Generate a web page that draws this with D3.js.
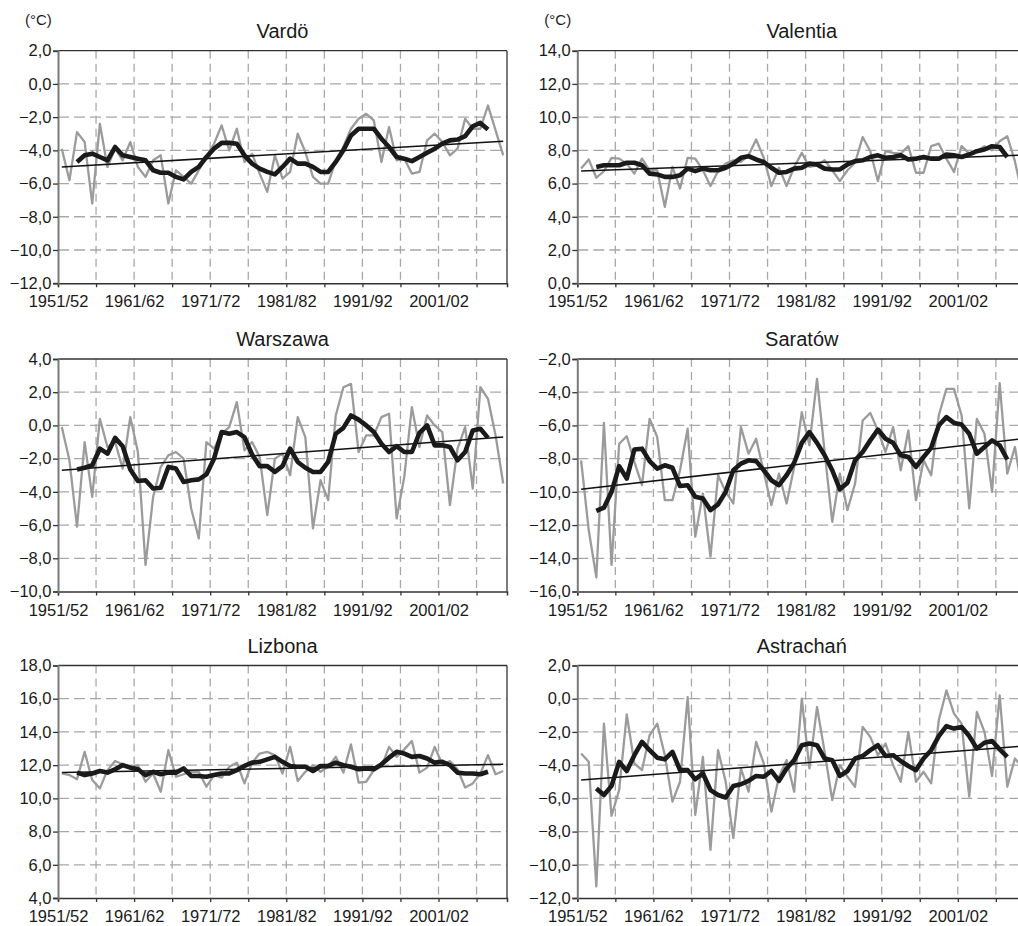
<!DOCTYPE html>
<html>
<head>
<meta charset="utf-8">
<script src="https://cdn.jsdelivr.net/npm/d3@7"></script>
<style>
  body { margin: 0; background: #fff; }
  svg { display: block; font-family: "Liberation Sans", Arial, sans-serif; }
</style>
</head>
<body>
<svg id="chart" width="1018" height="926"></svg>
<script>
// Winter seasons 1951/52 … 2009/10
const seasons = d3.range(1951, 2010).map(y => y + "/" + String((y + 1) % 100).padStart(2, "0"));
const xTickLabels = ["1951/52", "1961/62", "1971/72", "1981/82", "1991/92", "2001/02"];

const stations = ["Vardö", "Valentia", "Warszawa", "Saratów", "Lizbona", "Astrachań"];
const yMin = [-12, 0, -10, -16, 4, -12];
const yMax = [2, 14, 4, -2, 18, 2];

// Mean winter temperature (°C), one value per season
const vardoWinter = [-3.9, -5.8, -2.9, -3.5, -7.2, -2.4, -5.0, -3.9, -4.6, -3.5,
  -5.0, -5.6, -4.6, -4.3, -7.2, -5.2, -5.6, -6.0, -5.2, -4.4,
  -3.6, -2.5, -4.0, -2.7, -4.7, -4.2, -5.4, -6.5, -4.3, -5.7,
  -5.3, -3.0, -4.1, -5.6, -6.0, -6.0, -4.6, -3.8, -2.7, -2.1,
  -1.8, -2.2, -4.7, -2.6, -4.6, -4.5, -5.4, -5.3, -3.4, -3.0,
  -3.5, -4.3, -3.9, -2.1, -2.7, -2.7, -1.3, -2.8, -4.3];
const valentiaWinter = [6.9, 7.45, 6.35, 6.75, 7.55, 7.5, 7.2, 6.6, 7.5, 6.8,
  6.8, 4.6, 7.0, 5.7, 7.55, 7.5, 6.8, 5.85, 6.75, 7.2,
  7.4, 7.3, 7.7, 8.65, 7.55, 5.85, 6.95, 5.85, 7.0, 7.85,
  7.0, 7.1, 7.4, 6.8, 6.15, 6.8, 7.25, 8.8, 7.95, 6.15,
  7.95, 7.85, 7.8, 8.25, 6.65, 6.65, 8.25, 8.4, 7.5, 6.7,
  8.25, 7.8, 7.95, 8.25, 8.0, 8.55, 8.85, 7.35, 5.25];
const warszawaWinter = [-0.1, -2.1, -6.1, -1.0, -4.3, 0.4, -1.3, -1.0, -2.6, 0.5,
  -1.6, -8.4, -4.3, -2.5, -1.8, -1.6, -2.0, -5.0, -6.8, -1.0,
  -1.4, -0.5, -0.1, 1.4, -1.5, -1.0, -1.9, -5.4, -2.0, -1.7,
  -3.0, 0.5, -0.7, -6.2, -3.3, -4.5, 0.6, 2.3, 2.5, -1.6,
  -0.6, -0.6, 0.5, 0.7, -5.6, -3.1, 1.1, -1.3, 0.6, 0.0,
  -0.4, -4.8, -1.4, -0.1, -3.8, 2.3, 1.6, -0.6, -3.5];
const saratowWinter = [-8.1, -12.3, -15.15, -5.85, -14.4, -7.1, -6.65, -8.2, -9.6, -5.6,
  -6.7, -10.5, -10.5, -8.7, -6.2, -12.7, -10.1, -13.9, -9.0, -10.0,
  -10.7, -6.1, -7.7, -6.8, -8.8, -10.8, -8.9, -10.7, -8.5, -5.2,
  -7.2, -3.2, -7.6, -11.8, -8.9, -11.1, -9.5, -5.7, -5.25, -6.3,
  -7.6, -6.1, -8.7, -6.3, -10.5, -8.1, -9.0, -5.4, -3.8, -3.8,
  -5.4, -11.0, -5.6, -6.5, -10.0, -3.45, -8.9, -7.3, -10.0];
const lizbonaWinter = [11.5, 11.4, 11.15, 12.8, 11.1, 10.6, 11.7, 12.25, 12.05, 11.9,
  12.0, 11.0, 11.5, 10.4, 12.9, 11.3, 11.45, 11.6, 11.6, 10.7,
  11.4, 11.25, 11.9, 12.15, 10.9, 12.15, 12.7, 12.8, 12.6, 11.5,
  13.1, 11.05, 11.6, 12.0, 11.6, 11.9, 12.5, 11.55, 13.25, 10.95,
  11.0, 11.7, 11.9, 13.1, 12.5, 12.95, 13.45, 11.55, 11.85, 13.1,
  12.05, 12.25, 11.75, 10.65, 10.9, 11.5, 12.6, 11.45, 11.65];
const astrachanWinter = [-3.3, -3.8, -11.3, -1.5, -7.05, -5.5, -0.95, -3.9, -4.3, -2.2,
  -1.5, -3.4, -6.2, -5.0, 0.1, -7.0, -3.5, -9.1, -3.1, -5.0,
  -8.4, -4.2, -5.6, -2.6, -3.9, -6.8, -4.7, -3.7, -5.6, 0.0,
  -4.2, -0.5, -3.2, -6.1, -4.0, -4.7, -5.3, -1.7, -2.3, -3.4,
  -2.7, -4.0, -5.0, -2.0, -5.0, -4.4, -5.1, -1.3, 0.5, -0.9,
  -1.5, -5.9, -0.8, -2.0, -4.65, 0.2, -5.3, -3.6, -4.15];

// 5-season running mean, seasons 1953/54 … 2007/08
const smoothStart = 2;
const vardoMean5 = [-4.7, -4.3, -4.2, -4.4, -4.6, -3.8, -4.3, -4.4, -4.5, -4.6,
  -5.2, -5.35, -5.35, -5.6, -5.75, -5.3, -5.0, -4.4, -3.9, -3.55,
  -3.55, -3.6, -4.3, -4.8, -5.1, -5.3, -5.45, -5.0, -4.5, -4.8,
  -4.8, -5.0, -5.3, -5.3, -4.7, -4.0, -3.1, -2.7, -2.7, -2.7,
  -3.3, -3.8, -4.4, -4.5, -4.65, -4.4, -4.15, -3.9, -3.6, -3.4,
  -3.35, -3.15, -2.55, -2.35, -2.75];
const valentiaMean5 = [7.0, 7.1, 7.1, 7.1, 7.25, 7.25, 7.1, 6.6, 6.55, 6.4,
  6.4, 6.5, 6.9, 6.75, 6.9, 6.8, 6.8, 6.95, 7.2, 7.55,
  7.65, 7.45, 7.3, 6.95, 6.65, 6.7, 6.9, 6.95, 7.2, 7.15,
  6.9, 6.85, 6.85, 7.15, 7.35, 7.4, 7.6, 7.7, 7.55, 7.6,
  7.7, 7.45, 7.5, 7.6, 7.5, 7.5, 7.75, 7.7, 7.6, 7.75,
  7.95, 8.05, 8.25, 8.2, 7.6];
const warszawaMean5 = [-2.65, -2.55, -2.4, -1.4, -1.7, -0.75, -1.25, -2.65, -3.35, -3.3,
  -3.8, -3.75, -2.5, -2.6, -3.4, -3.3, -3.25, -2.95, -2.0, -0.4,
  -0.5, -0.4, -0.7, -1.75, -2.45, -2.45, -2.8, -2.45, -1.4, -2.2,
  -2.55, -2.8, -2.8, -2.2, -0.5, -0.15, 0.6, 0.35, 0.0, -0.4,
  -1.1, -1.6, -1.25, -1.6, -1.6, -0.45, 0.0, -1.2, -1.2, -1.3,
  -2.1, -1.6, -0.3, -0.2, -0.75];
const saratowMean5 = [-11.15, -10.95, -10.0, -8.45, -9.2, -7.45, -7.4, -8.15, -8.6, -8.4,
  -8.55, -9.65, -9.6, -10.3, -10.4, -11.1, -10.75, -10.0, -8.7, -8.3,
  -8.1, -8.15, -8.7, -9.3, -9.6, -9.0, -8.25, -7.05, -6.4, -7.05,
  -7.8, -8.7, -9.85, -9.45, -8.1, -7.6, -6.9, -6.25, -6.8, -7.05,
  -7.8, -7.9, -8.5, -7.9, -7.35, -6.0, -5.5, -5.85, -5.95, -6.5,
  -7.7, -7.3, -6.9, -7.2, -8.05];
const lizbonaMean5 = [11.55, 11.4, 11.5, 11.65, 11.55, 11.75, 12.0, 11.85, 11.75, 11.4,
  11.6, 11.45, 11.55, 11.55, 11.8, 11.35, 11.35, 11.3, 11.4, 11.5,
  11.5, 11.7, 11.95, 12.15, 12.2, 12.35, 12.5, 12.2, 11.95, 11.9,
  11.9, 11.65, 11.95, 11.95, 12.15, 12.0, 11.9, 11.75, 11.8, 11.75,
  12.05, 12.45, 12.8, 12.7, 12.5, 12.55, 12.4, 12.15, 12.2, 12.0,
  11.55, 11.5, 11.5, 11.45, 11.6];
const astrachanMean5 = [-5.4, -5.8, -5.25, -3.8, -4.35, -3.4, -2.6, -3.1, -3.55, -3.65,
  -3.2, -4.3, -4.3, -4.85, -4.5, -5.5, -5.8, -5.95, -5.25, -5.15,
  -4.95, -4.65, -4.7, -4.35, -4.95, -4.2, -3.7, -2.8, -2.7, -2.8,
  -3.6, -3.7, -4.65, -4.35, -3.6, -3.45, -3.1, -2.8, -3.45, -3.4,
  -3.75, -4.05, -4.3, -3.6, -3.1, -2.25, -1.65, -1.8, -1.7, -2.25,
  -3.0, -2.65, -2.55, -3.05, -3.5];

// Linear trend: value at the first and at the last season
const trendFirst = [-5.0, 6.75, -2.7, -9.85, 11.55, -4.9];
const trendLast = [-3.45, 7.72, -0.7, -6.8, 12.05, -2.85];

const winterSeries = [vardoWinter, valentiaWinter, warszawaWinter, saratowWinter, lizbonaWinter, astrachanWinter];
const meanSeries = [vardoMean5, valentiaMean5, warszawaMean5, saratowMean5, lizbonaMean5, astrachanMean5];

// ---- layout ----
const colLeft = [58, 577.3];
const rowTop = [50.7, 359, 665.5];
const plotW = 449;
const plotH = 232.5;

const svg = d3.select("#chart");
svg.append("rect").attr("width", 1018).attr("height", 926).attr("fill", "#fff");

const fmt = d3.format(".1f");
const n = seasons.length;

stations.forEach((name, s) => {
  const col = s % 2, row = Math.floor(s / 2);
  const g = svg.append("g").attr("transform", `translate(${colLeft[col]},${rowTop[row]})`);

  const x = d3.scaleLinear().domain([0, n]).range([0, plotW]);
  const y = d3.scaleLinear().domain([yMin[s], yMax[s]]).range([plotH, 0]);
  const yTicks = d3.range(yMin[s], yMax[s] + 0.001, 2);
  const xTicks = d3.range(0, n, 5);

  // dashed grid
  g.append("g").selectAll("line").data(yTicks.filter(v => v !== yMin[s] && v !== yMax[s]))
    .join("line")
    .attr("x1", 0).attr("x2", plotW)
    .attr("y1", d => y(d)).attr("y2", d => y(d))
    .attr("stroke", "#a8a8a8").attr("stroke-width", 1.3).attr("stroke-dasharray", "11,5");
  g.append("g").selectAll("line").data(xTicks.filter(i => i > 0))
    .join("line")
    .attr("x1", d => x(d)).attr("x2", d => x(d))
    .attr("y1", 0).attr("y2", plotH)
    .attr("stroke", "#a8a8a8").attr("stroke-width", 1.3).attr("stroke-dasharray", "8,5");

  const px = i => x(i + 0.5);

  // seasonal values
  g.append("path")
    .datum(winterSeries[s])
    .attr("fill", "none").attr("stroke", "#9b9b9b").attr("stroke-width", 2.3)
    .attr("stroke-linejoin", "round")
    .attr("d", d3.line().x((d, i) => px(i)).y(d => y(d)));

  // trend line
  g.append("line")
    .attr("x1", px(0)).attr("x2", px(n - 1))
    .attr("y1", y(trendFirst[s])).attr("y2", y(trendLast[s]))
    .attr("stroke", "#111").attr("stroke-width", 1.5);

  // running mean
  g.append("path")
    .datum(meanSeries[s])
    .attr("fill", "none").attr("stroke", "#1a1a1a").attr("stroke-width", 4.6)
    .attr("stroke-linejoin", "round")
    .attr("d", d3.line().x((d, i) => px(i + smoothStart)).y(d => y(d)));

  // frame
  g.append("line").attr("x1", 0).attr("x2", plotW).attr("y1", 0).attr("y2", 0)
    .attr("stroke", "#333").attr("stroke-width", 1.3);
  g.append("line").attr("x1", plotW).attr("x2", plotW).attr("y1", 0).attr("y2", plotH)
    .attr("stroke", "#333").attr("stroke-width", 1.3);

  // axes
  const xAxis = d3.axisBottom(x)
    .tickValues(xTicks)
    .tickSize(4).tickPadding(8.5)
    .tickFormat(i => xTickLabels.includes(seasons[i]) ? seasons[i] : "");
  const gx = g.append("g").attr("transform", `translate(0,${plotH})`).call(xAxis);
  gx.select(".domain").attr("stroke", "#333").attr("stroke-width", 1.5);
  gx.selectAll(".tick line").attr("stroke", "#333").attr("stroke-width", 1.3);
  gx.selectAll("text").attr("font-size", 16.5).attr("fill", "#1a1a1a")
    .attr("font-family", "Liberation Sans, Arial, sans-serif");

  const yAxis = d3.axisLeft(y)
    .tickValues(yTicks)
    .tickSize(5).tickPadding(1.5)
    .tickFormat(v => fmt(v).replace(".", ","));
  const gy = g.append("g").call(yAxis);
  gy.select(".domain").attr("stroke", "#7a7a7a").attr("stroke-width", 2);
  gy.selectAll(".tick line").attr("stroke", "#333").attr("stroke-width", 1.3);
  gy.selectAll("text").attr("font-size", 16.5).attr("fill", "#1a1a1a")
    .attr("font-family", "Liberation Sans, Arial, sans-serif");

  // title
  g.append("text")
    .attr("x", plotW / 2).attr("y", -13)
    .attr("text-anchor", "middle")
    .attr("font-size", 20).attr("fill", "#1a1a1a")
    .text(name);

  if (row === 0) {
    g.append("text")
      .attr("x", -33).attr("y", -25.5)
      .attr("font-size", 15).attr("fill", "#1a1a1a")
      .text("(°C)");
  }
});
</script>
</body>
</html>
